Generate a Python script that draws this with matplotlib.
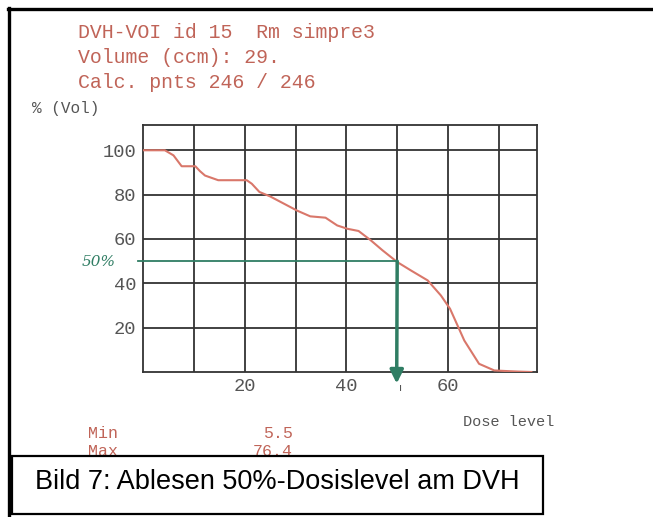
# DVH plot, read-off of the 50% dose level
import matplotlib

matplotlib.use("Agg")
import matplotlib.pyplot as plt
from matplotlib.patches import Rectangle
from matplotlib.lines import Line2D

W, H = 653, 517

# curve (dose level, % volume)
dose = [0, 4.3, 6.0, 7.6, 10.3, 11.2, 12.2, 14.8, 20.4, 21.4, 22.9, 25.0,
        30.3, 32.9, 35.9, 38.2, 40.2, 42.4, 44.8, 47.1, 50.0, 52.7, 56.0,
        58.6, 60.4, 63.2, 66.1, 69.1, 71.7, 73.7, 76.4]
volume = [100, 100, 97.7, 92.8, 92.8, 90.6, 88.6, 86.5, 86.5, 84.9, 81.2, 79.2,
          72.8, 70.2, 69.6, 66.1, 64.6, 63.6, 59.4, 54.9, 49.6, 45.8, 41.3,
          34.5, 28.5, 14.2, 3.7, 0.7, 0.4, 0.2, 0.0]

x_ticks = [20, 40, 60]
y_ticks = [20, 40, 60, 80, 100]
grid_x = [10, 20, 30, 40, 50, 60, 70]

header = ["DVH-VOI id 15  Rm simpre3", "Volume (ccm): 29.", "Calc. pnts 246 / 246"]
stats_names = ["Min", "Max"]
stats_values = ["5.5", "76.4"]
level = 50
dose_at_level = 50.0
caption = "Bild 7: Ablesen 50%-Dosislevel am DVH"

RED = "#c06458"
CURVE = "#d9776a"
GREEN = "#2f7d63"
GRAY = "#555555"
GRID = "#333333"
MONO = "Liberation Mono"


def fx(px):
    return px / W


def fy(py):
    return 1 - py / H


fig = plt.figure(figsize=(W / 100, H / 100), dpi=100)

# axes placed on the pixel box of the scanned grid
ax = fig.add_axes([fx(143), fy(372), fx(537) - fx(143), fy(125) - fy(372)])
ax.set_xlim(0, 77.5)
ax.set_ylim(0, 111.4)
for gx in grid_x:
    ax.axvline(gx, color=GRID, lw=1.3, zorder=1)
for gy in y_ticks:
    ax.axhline(gy, color=GRID, lw=1.3, zorder=1)
for s in ax.spines.values():
    s.set_color(GRID)
    s.set_linewidth(1.3)
ax.tick_params(axis="y", length=0, pad=5)
ax.tick_params(axis="x", length=0, pad=4)
ax.set_xticks(x_ticks)
ax.set_yticks(y_ticks)
ax.set_xticklabels([str(v) for v in x_ticks], fontfamily=MONO, fontsize=13.5, color=GRAY)
ax.set_yticklabels([str(v) for v in y_ticks], fontfamily=MONO, fontsize=13.5, color=GRAY)

ax.plot(dose, volume, color=CURVE, lw=1.5, zorder=3)

# green read-off lines
ax.plot([-1, dose_at_level], [level, level], color=GREEN, lw=1.3, zorder=4, clip_on=False)
ax.annotate("", xy=(dose_at_level - 0.1, -5.2), xytext=(dose_at_level, level),
            arrowprops=dict(arrowstyle="-|>,head_length=0.8,head_width=0.4",
                            color=GREEN, lw=2.5, shrinkA=0, shrinkB=0),
            zorder=5, annotation_clip=False)
fig.text(fx(82), fy(262), "50%", color=GREEN, fontsize=11, fontstyle="italic",
         fontfamily="DejaVu Serif", va="center", ha="left")
fig.text(fx(401), fy(388), "ı", color=GRAY, fontsize=8, va="center", ha="center")

# header texts
for i, line in enumerate(header):
    fig.text(fx(78), fy(32 + 25.5 * i), line, fontfamily=MONO, fontsize=14.3,
             color=RED, va="center", ha="left")
fig.text(fx(32), fy(108), "% (Vol)", fontfamily=MONO, fontsize=11.5, color=GRAY,
         va="center", ha="left")
fig.text(fx(463), fy(422), "Dose level", fontfamily=MONO, fontsize=11, color=GRAY,
         va="center", ha="left")

for i, (name, val) in enumerate(zip(stats_names, stats_values)):
    fig.text(fx(88), fy(433 + 19 * i), name, fontfamily=MONO, fontsize=12, color=RED,
             va="center", ha="left")
    fig.text(fx(293), fy(433 + 19 * i), val, fontfamily=MONO, fontsize=12, color=RED,
             va="center", ha="right")

# outer frame of the scan
fig.add_artist(Line2D([fx(8), 1], [fy(8.5), fy(8.5)], color="black", lw=2.4))
fig.add_artist(Line2D([fx(8.5), fx(8.5)], [fy(8), 0], color="black", lw=2.4))

# caption box
fig.add_artist(Rectangle((fx(12), fy(514)), fx(543) - fx(12), fy(456) - fy(514),
                         transform=fig.transFigure, facecolor="white",
                         edgecolor="black", lw=1.6, zorder=10))
fig.text(fx(35), fy(489), caption, fontfamily="Liberation Sans", fontsize=19.5,
         color="black", va="baseline", ha="left", zorder=11)

fig.savefig("out.png", dpi=100)
